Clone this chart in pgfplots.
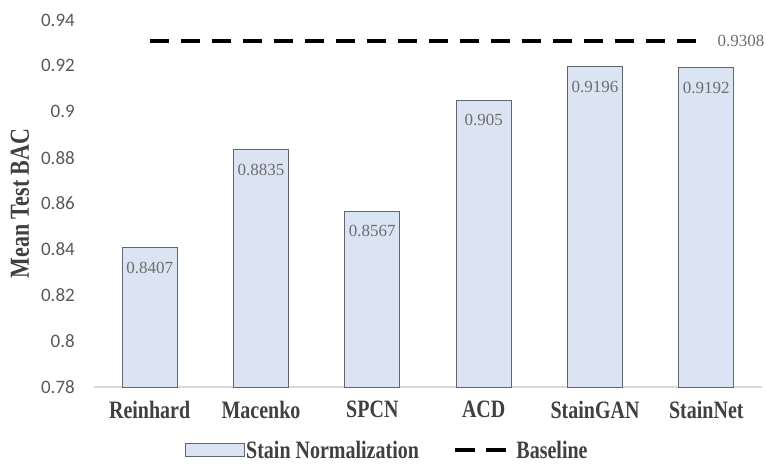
\documentclass[border=0pt]{standalone}
\usepackage{fontspec}
\usepackage{graphicx}
\usepackage{pgfplots}
\pgfplotsset{compat=1.18}
\setmainfont{Liberation Serif}
\newfontfamily\carlito{Carlito}
\newcommand\cond[1]{\scalebox{0.8}[1]{#1}}
\definecolor{barfill}{HTML}{DAE4F2}
\definecolor{baredge}{HTML}{5F6670}
\definecolor{ticktext}{HTML}{595959}
\definecolor{labtext}{HTML}{404040}
\definecolor{valtext}{HTML}{6E6E6E}
\definecolor{axisgray}{HTML}{D9D9D9}

\begin{document}
\begin{tikzpicture}
\useasboundingbox (0pt,0pt) rectangle (766pt,465pt);
\begin{axis}[
  at={(94pt,78pt)}, anchor=south west,
  scale only axis, width=668pt, height=367pt,
  xmin=-0.5, xmax=5.5, ymin=0.78, ymax=0.94,
  ytick={0.78,0.80,0.82,0.84,0.86,0.88,0.90,0.92,0.94},
  xtick={0,1,2,3,4,5},
  xticklabels={\cond{Reinhard},\cond{Macenko},\cond{SPCN},\cond{ACD},\cond{StainGAN},\cond{StainNet}},
  /pgf/number format/assume math mode=true,
  /pgf/number format/.cd, fixed, precision=4, /pgfplots/.cd,
  axis lines*=left,
  axis line style={-},
  y axis line style={draw=none},
  x axis line style={draw=axisgray, line width=1.3pt},
  major tick length=0pt,
  yticklabel style={font=\carlito\fontsize{19}{19}\selectfont, text=ticktext, inner sep=0pt, anchor=east},
  yticklabel shift=19pt,
  xticklabel style={font=\fontsize{25}{25}\selectfont\bfseries, text=labtext, inner sep=0pt, anchor=north},
  xticklabel shift=14pt,
  ylabel={\cond{Mean Test BAC}},
  every axis y label/.style={at={(axis description cs:-0.1108,0.5)}, rotate=90, anchor=center,
    font=\fontsize{27.5}{27.5}\selectfont\bfseries, text=labtext},
  legend columns=2,
  legend cell align=left,
  legend style={draw=none, fill=none, at={(axis description cs:0.4386,-0.172)}, anchor=center,
    font=\fontsize{25}{25}\selectfont\bfseries, text=labtext,
    nodes={inner sep=1.5pt},
    /tikz/every even column/.append style={column sep=32.5pt}},
  clip=false,
]
% mean test BAC of each stain normalization method
\addplot[ybar, bar width=55pt, bar shift=0pt, fill=barfill, draw=baredge, line width=0.8pt,
  nodes near coords, nodes near coords align={below},
  every node near coord/.append style={font=\fontsize{17}{17}\selectfont, text=valtext, inner sep=0pt, yshift=-14pt},
  legend image code/.code={\draw[fill=barfill, draw=baredge, line width=0.8pt] (0pt,-6.5pt) rectangle (59pt,6.5pt);}]
  coordinates {(0,0.8407) (1,0.8835) (2,0.8567) (3,0.905) (4,0.9196) (5,0.9192)};
\addlegendentry{\cond{Stain Normalization}}
% baseline without normalization
\addplot[black, line width=4.5pt, dash pattern=on 19.5pt off 11.5pt,
  legend image code/.code={\draw[black, line width=4.5pt, dash pattern=on 19.5pt off 11.5pt] (0pt,0pt) -- (50.5pt,0pt);
    \path (57.5pt,0pt);}]
  coordinates {(0,0.9308) (5,0.9308)};
\addlegendentry{\cond{Baseline}}
\node[anchor=west, font=\fontsize{17}{17}\selectfont, text=valtext, inner sep=0pt, xshift=11pt]
  at (axis cs:5,0.9308) {0.9308};
\end{axis}
\end{tikzpicture}
\end{document}
